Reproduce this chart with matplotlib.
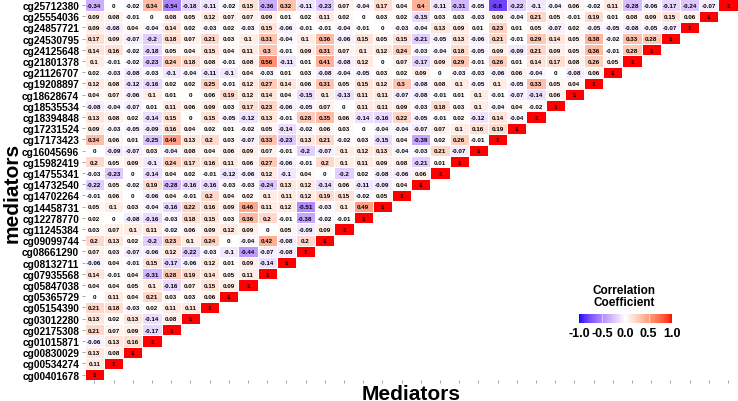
import numpy as np
import matplotlib
matplotlib.use("Agg")
import matplotlib.pyplot as plt
from matplotlib.colors import ListedColormap

plt.rcParams["font.family"] = ["Liberation Sans", "DejaVu Sans"]

mediators = [
    "cg25712380", "cg25554036", "cg24857721", "cg24530795", "cg24125648",
    "cg21801378", "cg21126707", "cg19208897", "cg18628674", "cg18535534",
    "cg18394848", "cg17231524", "cg17173423", "cg16045696", "cg15982419",
    "cg14755341", "cg14732540", "cg14702264", "cg14458731", "cg12278770",
    "cg11245384", "cg09099744", "cg08661290", "cg08132711", "cg07935568",
    "cg05847038", "cg05365729", "cg05154390", "cg03012280", "cg02175308",
    "cg01015871", "cg00830029", "cg00534274", "cg00401678",
]

# each row read left to right, ending with the diagonal 1
corr_rows = [
    [-0.34, 0, -0.02, 0.34, -0.54, -0.18, -0.11, -0.02, 0.15, -0.36, 0.32, -0.11, -0.23, 0.07, -0.04, 0.17, 0.04,
     0.4, -0.11, -0.31, -0.05, -0.8, -0.22, -0.1, -0.04, 0.06, -0.02, 0.11, -0.28, -0.06, -0.17, -0.24, -0.07, 1],
    [0.09, 0.08, -0.01, 0, 0.08, 0.05, 0.12, 0.07, 0.07, 0.09, 0.01, 0.02, 0.11, 0.02, 0, 0.03, 0.02,
     -0.15, 0.03, 0.03, -0.03, 0.09, -0.04, 0.21, 0.05, -0.01, 0.19, 0.01, 0.08, 0.09, 0.15, 0.06, 1],
    [0.09, -0.08, 0.04, -0.04, 0.14, 0.02, -0.03, 0.02, -0.03, 0.15, -0.06, -0.01, -0.01, -0.04, -0.01, 0, -0.03,
     -0.04, 0.13, 0.09, 0.01, 0.23, 0.01, 0.05, -0.07, 0.02, -0.05, -0.05, -0.08, -0.05, -0.07, 1],
    [0.17, 0.09, -0.07, -0.2, 0.18, 0.07, 0.21, 0.03, 0.1, 0.31, -0.04, 0.1, 0.36, -0.06, 0.15, 0.05, 0.15,
     -0.21, -0.05, 0.13, -0.06, 0.21, -0.01, 0.29, 0.14, 0.05, 0.38, -0.02, 0.33, 0.28, 1],
    [0.14, 0.16, -0.02, -0.18, 0.05, 0.04, 0.15, 0.04, 0.11, 0.3, -0.01, 0.09, 0.31, 0.07, 0.1, 0.12, 0.24,
     -0.03, -0.04, 0.18, -0.05, 0.09, -0.09, 0.21, 0.09, 0.05, 0.36, -0.01, 0.28, 1],
    [0.1, -0.01, -0.02, -0.23, 0.24, 0.18, 0.08, -0.01, 0.08, 0.56, -0.11, 0.01, 0.41, -0.08, 0.12, 0, 0.07,
     -0.17, 0.09, 0.29, -0.01, 0.26, 0.01, 0.14, 0.17, 0.08, 0.26, 0.05, 1],
    [0.02, -0.03, -0.08, -0.03, -0.1, -0.04, -0.11, -0.1, 0.04, -0.03, 0.01, 0.03, -0.08, -0.04, -0.05, 0.03, 0.02,
     0.09, 0, -0.03, -0.03, -0.06, 0.06, -0.04, 0, -0.08, 0.06, 1],
    [0.12, 0.08, -0.12, -0.16, 0.02, 0.02, 0.25, -0.01, 0.12, 0.27, 0.14, 0.06, 0.31, 0.05, 0.15, 0.12, 0.3,
     -0.08, 0.08, 0.1, -0.05, 0.1, -0.05, 0.33, 0.05, 0.04, 1],
    [0.04, 0.07, -0.06, 0.1, 0.01, 0, 0.06, 0.19, 0.12, 0.14, 0.04, -0.15, 0.1, -0.13, 0.11, 0.11, -0.07,
     -0.08, -0.01, 0.01, 0.1, -0.01, -0.07, -0.14, 0.06, 1],
    [-0.08, -0.04, -0.07, 0.01, 0.11, 0.06, 0.09, 0.03, 0.17, 0.23, -0.06, -0.05, 0.07, 0, 0.11, 0.11, 0.09,
     -0.03, 0.18, 0.03, 0.1, -0.04, 0.04, -0.02, 1],
    [0.13, 0.08, 0.02, -0.14, 0.15, 0, 0.15, -0.05, -0.12, 0.13, -0.01, 0.28, 0.35, 0.06, -0.14, -0.16, 0.22,
     -0.05, -0.01, 0.02, -0.12, 0.14, -0.04, 1],
    [0.09, -0.03, -0.05, -0.09, 0.16, 0.04, 0.02, 0.01, -0.02, 0.05, -0.14, -0.02, 0.06, 0.03, 0, -0.04, -0.04,
     -0.07, 0.07, 0.1, 0.16, 0.19, 1],
    [0.34, 0.06, 0.01, -0.25, 0.49, 0.13, 0.2, 0.03, -0.07, 0.33, -0.23, 0.13, 0.21, -0.02, 0.03, -0.15, 0.04,
     -0.39, 0.02, 0.26, -0.01, 1],
    [0, -0.09, -0.07, 0.03, -0.04, 0.08, 0.04, 0.06, 0.09, 0.07, -0.01, -0.2, -0.07, 0.1, 0.12, 0.13, -0.04,
     -0.03, 0.21, -0.07, 1],
    [0.2, 0.05, 0.09, -0.1, 0.24, 0.17, 0.16, 0.11, 0.06, 0.27, -0.06, -0.01, 0.2, 0.1, 0.11, 0.09, 0.08,
     -0.21, 0.01, 1],
    [-0.03, -0.23, 0, -0.14, 0.04, 0.02, -0.01, -0.12, -0.06, 0.12, -0.1, 0.04, 0, -0.2, 0.02, -0.08, -0.06,
     0.06, 1],
    [-0.22, 0.05, -0.02, 0.19, -0.28, -0.16, -0.16, -0.03, -0.03, -0.24, 0.13, 0.12, -0.14, 0.06, -0.11, -0.09,
     0.04, 1],
    [-0.01, 0.06, 0, -0.06, 0.04, -0.01, 0.2, 0.04, 0.02, 0.1, 0.11, 0.12, 0.19, 0.15, -0.02, 0.05, 1],
    [0.05, 0.1, 0.03, -0.04, -0.16, 0.22, 0.16, 0.09, 0.46, 0.11, 0.12, -0.51, -0.03, 0.1, 0.49, 1],
    [0.02, 0, -0.08, -0.16, -0.03, 0.18, 0.15, 0.03, 0.36, 0.2, -0.01, -0.38, -0.02, -0.01, 1],
    [0.03, 0.07, 0.1, 0.11, -0.02, 0.06, 0.09, 0.12, 0.09, 0, 0.05, -0.09, 0.09, 1],
    [0.2, 0.13, 0.02, -0.2, 0.23, 0.1, 0.24, 0, -0.04, 0.42, -0.08, 0.2, 1],
    [0.07, 0.03, -0.07, -0.06, 0.12, -0.22, -0.03, -0.1, -0.44, -0.07, -0.08, 1],
    [-0.06, 0.04, -0.01, 0.15, -0.17, -0.06, 0.12, 0.01, 0.09, -0.14, 1],
    [0.14, -0.01, 0.04, -0.31, 0.28, 0.19, 0.14, 0.05, 0.11, 1],
    [0.04, 0.04, 0.05, 0.1, -0.16, 0.07, 0.15, 0.09, 1],
    [0, 0.11, 0.04, 0.21, 0.03, 0.03, 0.06, 1],
    [0.21, 0.18, -0.03, 0.02, 0.11, 0.11, 1],
    [0.13, 0.02, 0.13, -0.14, 0.08, 1],
    [0.21, 0.07, 0.09, -0.17, 1],
    [-0.06, 0.13, 0.16, 1],
    [0.13, 0.08, 1],
    [0.11, 1],
    [1],
]

legend_ticks = [-1.0, -0.5, 0.0, 0.5, 1.0]


# ggplot-style gradient2 (blue - white - red) interpolated in CIELAB
WHITE_PT = np.array([0.95047, 1.0, 1.08883])


def srgb_to_lab(rgb):
    c = np.asarray(rgb, float)
    c = np.where(c <= 0.04045, c / 12.92, ((c + 0.055) / 1.055) ** 2.4)
    m = np.array([[0.4124, 0.3576, 0.1805], [0.2126, 0.7152, 0.0722], [0.0193, 0.1192, 0.9505]])
    xyz = m @ c / WHITE_PT
    f = np.where(xyz > 0.008856, np.cbrt(xyz), 7.787 * xyz + 16 / 116)
    return np.array([116 * f[1] - 16, 500 * (f[0] - f[1]), 200 * (f[1] - f[2])])


def lab_to_srgb(lab):
    L, a, b = lab
    fy = (L + 16) / 116
    f = np.array([fy + a / 500, fy, fy - b / 200])
    xyz = np.where(f ** 3 > 0.008856, f ** 3, (f - 16 / 116) / 7.787) * WHITE_PT
    minv = np.array([[3.2406, -1.5372, -0.4986], [-0.9689, 1.8758, 0.0415], [0.0557, -0.2040, 1.0570]])
    c = np.clip(minv @ xyz, 0, None)
    c = np.where(c <= 0.0031308, 12.92 * c, 1.055 * c ** (1 / 2.4) - 0.055)
    return np.clip(c, 0, 1)


lab_w = srgb_to_lab([1, 1, 1])
lab_b = srgb_to_lab([0, 0, 1])
lab_r = srgb_to_lab([1, 0, 0])
cols = []
for t in np.linspace(-1, 1, 257):
    end = lab_b if t < 0 else lab_r
    cols.append(lab_to_srgb(lab_w + abs(t) * (end - lab_w)))
cmap = ListedColormap(cols)

n = len(mediators)
mat = np.full((n, n), np.nan)
for i, row in enumerate(corr_rows):
    mat[i, :len(row)] = row

fig = plt.figure(figsize=(7.38, 4.02), dpi=100)
ax = fig.add_axes([84.7 / 738, 1 - 381.2 / 402, 652.8 / 738, 380.8 / 402])

mesh = ax.pcolormesh(np.arange(n + 1), np.arange(n + 1), np.ma.masked_invalid(mat),
                     cmap=cmap, vmin=-1, vmax=1, edgecolors="white", linewidth=0.4)
for i, row in enumerate(corr_rows):
    for j, v in enumerate(row):
        ax.text(j + 0.5, i + 0.52, f"{v:g}", ha="center", va="center",
                fontsize=4.5, fontweight="bold", color="black")

ax.set_xlim(0, n)
ax.set_ylim(n, 0)
ax.set_xticks(np.arange(n) + 0.5)
ax.set_xticklabels([])
ax.set_yticks(np.arange(n) + 0.5)
ax.set_yticklabels(mediators, fontsize=7.3, fontweight="bold")
ax.tick_params(axis="both", length=2.5, width=0.6, color="#999999", pad=1.5)
for s in ax.spines.values():
    s.set_visible(False)

fig.text(0.017, 1 - 193 / 402, "mediators", rotation=90, ha="center", va="center",
         fontsize=15, fontweight="bold")
fig.text(411 / 738, 1 - 395 / 402, "Mediators", ha="center", va="center",
         fontsize=15, fontweight="bold")

# legend
cax = fig.add_axes([579 / 738, 1 - 324 / 402, 93 / 738, 9 / 402])
cb = fig.colorbar(mesh, cax=cax, orientation="horizontal", ticks=legend_ticks)
cb.outline.set_visible(False)
cb.ax.tick_params(length=0, pad=3)
cb.ax.set_xticklabels([f"{t:.1f}" for t in legend_ticks], fontsize=9, fontweight="bold")
for t in legend_ticks[1:-1]:
    cax.axvline(t, color="white", lw=0.6, alpha=0.6)
fig.text(624 / 738, 1 - 297 / 402, "Correlation\nCoefficient", ha="center", va="center",
         fontsize=8.5, fontweight="bold", linespacing=1.1)

fig.savefig("out.png", dpi=100)
